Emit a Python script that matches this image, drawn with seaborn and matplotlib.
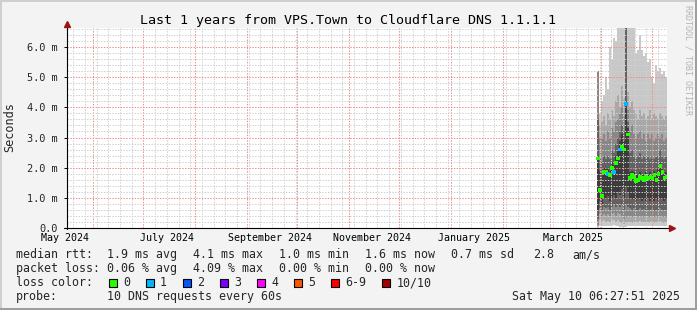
import pandas as pd
import matplotlib
matplotlib.use("Agg")
import matplotlib.pyplot as plt
import matplotlib.dates as mdates
import matplotlib.transforms as mtransforms
from matplotlib.ticker import FixedLocator
from matplotlib.patches import Rectangle
import seaborn as sns

# ---------------- data ----------------
col_start = "2025-03-29 12:00"
col_step = "1728min"

# sorted ping percentiles per consolidated column (ms)
p10 = [5.2, 3.8, 4.2, 4.4, 5.0, 4.6, 6.0, 5.6, 6.3, 6.2, 6.8, 6.8, 6.8, 6.8, 6.8, 6.8, 6.8, 6.8, 6.8,
       5.8, 5.9, 6.4, 5.9, 5.7, 5.8, 5.5, 5.6, 5.0, 4.8, 5.4, 5.2, 5.3, 5.1, 5.2, 5.0]
p9 = [5.2, 3.4, 3.5, 3.7, 3.4, 3.8, 3.6, 3.9, 3.7, 4.2, 4.4, 4.0, 4.7, 4.3, 6.8, 4.5, 4.0, 4.2, 3.9,
      3.8, 3.6, 3.9, 3.7, 3.8, 3.6, 3.7, 3.9, 3.6, 3.8, 3.7, 3.6, 3.8, 3.7, 3.6, 3.7]
p8 = [5.2, 3.0, 3.0, 3.1, 2.9, 3.2, 3.0, 3.3, 3.2, 3.5, 3.6, 3.8, 4.0, 3.7, 6.8, 3.9, 3.2, 3.4, 3.1,
      3.0, 3.1, 3.2, 3.0, 3.1, 2.9, 3.1, 3.0, 3.1, 2.9, 3.0, 3.1, 3.0, 3.1, 2.9, 3.0]
p7 = [3.6, 2.3, 2.2, 2.4, 2.3, 2.4, 2.3, 2.6, 2.5, 2.8, 3.0, 3.2, 3.4, 3.2, 6.8, 3.5, 2.5, 2.6, 2.4,
      2.3, 2.4, 2.5, 2.3, 2.4, 2.3, 2.4, 2.3, 2.4, 2.3, 2.35, 2.4, 2.6, 2.4, 2.3, 2.35]
p6 = [2.4, 1.9, 1.8, 2.0, 2.0, 1.95, 1.9, 2.2, 2.1, 2.4, 2.6, 2.9, 3.1, 2.9, 4.2, 3.3, 1.85, 1.9, 1.85,
      1.75, 1.8, 1.85, 1.8, 1.75, 1.85, 1.8, 1.85, 1.8, 1.9, 1.75, 1.95, 2.15, 1.95, 1.8, 1.85]
p5 = [0.6, 0.9, 0.8, 1.0, 0.95, 1.05, 0.9, 1.0, 1.1, 1.0, 1.2, 1.1, 1.3, 1.0, 1.4, 1.2, 1.0, 0.95, 1.0,
      0.9, 0.95, 1.0, 0.9, 0.95, 0.9, 0.95, 0.9, 0.95, 0.9, 0.95, 0.9, 1.0, 0.95, 0.9, 0.95]
p4 = [0.3, 0.65, 0.6, 0.7, 0.65, 0.7, 0.6, 0.7, 0.75, 0.7, 0.8, 0.7, 0.75, 0.6, 0.8, 0.7, 0.65, 0.6, 0.65,
      0.6, 0.6, 0.65, 0.6, 0.62, 0.58, 0.6, 0.6, 0.62, 0.58, 0.6, 0.6, 0.65, 0.6, 0.6, 0.6]
p3 = [0.1, 0.45, 0.4, 0.45, 0.4, 0.45, 0.4, 0.45, 0.5, 0.4, 0.5, 0.45, 0.4, 0.3, 0.35, 0.4, 0.4, 0.38, 0.4,
      0.36, 0.38, 0.4, 0.37, 0.38, 0.36, 0.37, 0.38, 0.4, 0.36, 0.37, 0.38, 0.4, 0.37, 0.36, 0.37]
p2 = [0.05, 0.25, 0.22, 0.25, 0.2, 0.22, 0.2, 0.25, 0.28, 0.2, 0.25, 0.2, 0.15, 0.12, 0.15, 0.2, 0.2, 0.18, 0.2,
      0.18, 0.2, 0.22, 0.2, 0.2, 0.18, 0.2, 0.2, 0.22, 0.18, 0.2, 0.2, 0.22, 0.2, 0.18, 0.2]
p1 = [0.0, 0.08, 0.06, 0.08, 0.05, 0.06, 0.05, 0.08, 0.1, 0.05, 0.06, 0.04, 0.03, 0.02, 0.03, 0.05, 0.06, 0.05, 0.06,
      0.05, 0.05, 0.06, 0.05, 0.06, 0.05, 0.05, 0.06, 0.06, 0.05, 0.05, 0.06, 0.06, 0.05, 0.05, 0.06]
median = [2.3, 1.25, 1.05, 1.85, 1.85, 1.8, 1.75, 2.0, 1.85, 2.15, 2.3, 2.6, 2.7, 2.6, 4.1, 3.1, 1.65, 1.75, 1.7,
          1.55, 1.6, 1.7, 1.65, 1.6, 1.7, 1.65, 1.7, 1.65, 1.75, 1.6, 1.8, 2.05, 1.85, 1.65, 1.7]
loss = [0, 0, 0, 0, 0, 1, 0, 0, 1, 0, 0, 1, 0, 0, 1, 0, 0, 0, 0,
        0, 0, 0, 0, 0, 0, 0, 0, 0, 0, 0, 0, 0, 0, 0, 0]

x_start = "2024-05-16 06:27"
x_end = "2025-05-10 06:27"
y_max = 6.63
y_ticks = [0, 1, 2, 3, 4, 5, 6]
y_tick_labels = ["0.0", "1.0 m", "2.0 m", "3.0 m", "4.0 m", "5.0 m", "6.0 m"]
y_minor = [0.2, 0.4, 0.6, 0.8, 1.2, 1.4, 1.6, 1.8, 2.2, 2.4, 2.6, 2.8, 3.2, 3.4, 3.6, 3.8,
           4.2, 4.4, 4.6, 4.8, 5.2, 5.4, 5.6, 5.8, 6.2, 6.4, 6.6]
x_label_dates = ["2024-05-15", "2024-07-15", "2024-09-15", "2024-11-15", "2025-01-15", "2025-03-15"]
x_labels = ["May 2024", "July 2024", "September 2024", "November 2024", "January 2025", "March 2025"]

loss_names = ["0", "1", "2", "3", "4", "5", "6-9", "10/10"]
loss_colors = ["#26ff00", "#00b8ff", "#0059ff", "#7e00ff", "#ff00ff", "#ff5500", "#ff0000", "#a10000"]
smoke_colors = ["#c8c8c8", "#a8a8a8", "#888888", "#626262", "#3c3c3c"]

title = "Last 1 years from VPS.Town to Cloudflare DNS 1.1.1.1"
stats_rtt = ["1.9 ms avg", "4.1 ms max", "1.0 ms min", "1.6 ms now", "0.7 ms sd", "2.8", "am/s"]
stats_loss = ["0.06 % avg", "4.09 % max", "0.00 % min", "0.00 % now"]
probe_text = "10 DNS requests every 60s"
stamp = "Sat May 10 06:27:51 2025"

# ---------------- figure ----------------
sns.set_theme(style="white")
plt.rcParams["font.family"] = ["DejaVu Sans Mono", "DejaVu Sans"]

W, H = 697, 310
fig = plt.figure(figsize=(W / 100, H / 100), dpi=100, facecolor="#f3f3f3")
ax = fig.add_axes([67 / W, (H - 228) / H, 600 / W, 200 / H])
ax.set_facecolor("white")
for s in ax.spines.values():
    s.set_visible(False)

edges = pd.date_range(col_start, periods=len(median) + 1, freq=col_step)
mids = edges[:-1] + (edges[1] - edges[0]) / 2

lows = [p1, p2, p3, p4, p5]
highs = [p10, p9, p8, p7, p6]
for lo, hi, c in zip(lows, highs, smoke_colors):
    ax.fill_between(edges, lo + [lo[-1]], hi + [hi[-1]], step="post", color=c,
                    linewidth=0, zorder=1)

df = pd.DataFrame({"time": mids, "median": median, "loss": [loss_names[i] for i in loss]})
sns.scatterplot(data=df, x="time", y="median", hue="loss",
                palette=dict(zip(loss_names, loss_colors)), marker="s", s=7,
                linewidth=0, legend=False, ax=ax, zorder=4)

ax.set_xlim(pd.Timestamp(x_start), pd.Timestamp(x_end))
ax.set_ylim(0, y_max)
ax.set_xlabel("")
ax.set_ylabel("")

ax.xaxis.set_major_locator(mdates.MonthLocator())
ax.xaxis.set_minor_locator(mdates.WeekdayLocator(byweekday=mdates.MO))
ax.yaxis.set_major_locator(FixedLocator(y_ticks))
ax.yaxis.set_minor_locator(FixedLocator(y_minor))
ax.set_yticks(y_ticks, y_tick_labels)
ax.tick_params(axis="x", which="both", labelbottom=False, length=0)
ax.tick_params(axis="y", which="major", length=2, width=0.7, color="black", direction="out",
               pad=4.5, labelsize=7.4, left=True)
ax.tick_params(axis="y", which="minor", length=0)
for lab in ax.get_yticklabels():
    lab.set_verticalalignment("center_baseline")

ax.set_axisbelow(False)
ax.grid(which="minor", color="#d0d0d0", lw=0.72, ls=(0, (1.4, 1.4)))
ax.grid(which="major", color="#f28c8c", lw=0.72, ls=(0, (1.4, 1.4)))

trans = mtransforms.blended_transform_factory(ax.transData, ax.transAxes)
for d, lab in zip(x_label_dates, x_labels):
    ax.text(pd.Timestamp(d), -0.065, lab, transform=trans, ha="center", va="baseline",
            fontsize=7.2, color="black", clip_on=False)

# axes with arrows
ax.plot([0, 0], [-0.005, 1.02], transform=ax.transAxes, color="black", lw=0.8,
        clip_on=False, zorder=6)
ax.plot([-0.005, 1.005], [0, 0], transform=ax.transAxes, color="black", lw=0.8,
        clip_on=False, zorder=6)
ax.plot([0], [1.02], transform=ax.transAxes, marker="^", ms=5, color="#9a1414",
        clip_on=False, zorder=7)
ax.plot([1.0083], [0], transform=ax.transAxes, marker=">", ms=5, color="#9a1414",
        clip_on=False, zorder=7)

# texts
def fx(px):
    return px / W

def fy(py):
    return 1 - py / H

fig.text(0.5, fy(24), title, ha="center", va="baseline", fontsize=9.6, color="black")
fig.text(fx(10), fy(127), "Seconds", rotation=90, ha="center", va="center", fontsize=8.6)
fig.text(fx(688), fy(60), "RRDTOOL / TOBI OETIKER", rotation=270, ha="center", va="center",
         fontsize=6, color="#b4b4b4")

fs = 8.4
fig.text(fx(16), fy(258), "median rtt:", ha="left", va="baseline", fontsize=fs)
for xp, t in zip([107, 193, 279, 365, 451, 533, 572], stats_rtt):
    fig.text(fx(xp), fy(258), t, ha="left", va="baseline", fontsize=fs)
fig.text(fx(16), fy(272), "packet loss:", ha="left", va="baseline", fontsize=fs)
for xp, t in zip([107, 193, 279, 365], stats_loss):
    fig.text(fx(xp), fy(272), t, ha="left", va="baseline", fontsize=fs)
fig.text(fx(16), fy(286), "loss color:", ha="left", va="baseline", fontsize=fs)
sq_x = [108.5, 145.5, 182.5, 219.5, 256.5, 293.5, 330.5, 381.5]
lab_x = [123, 160, 197, 234, 271, 308, 345, 397]
for sx, lx, name, col in zip(sq_x, lab_x, loss_names, loss_colors):
    fig.add_artist(Rectangle((fx(sx), fy(286.5)), 8 / W, 8 / H, transform=fig.transFigure,
                             facecolor=col, edgecolor="black", linewidth=0.8))
    fig.text(fx(lx), fy(286), name, ha="left", va="baseline", fontsize=fs)
fig.text(fx(16), fy(300), "probe:", ha="left", va="baseline", fontsize=fs)
fig.text(fx(107), fy(300), probe_text, ha="left", va="baseline", fontsize=fs)
fig.text(fx(680), fy(300), stamp, ha="right", va="baseline", fontsize=fs)

# 3D frame
fig.add_artist(Rectangle((0, 1 - 2 / H), 1, 2 / H, transform=fig.transFigure, color="#cfcfcf", lw=0))
fig.add_artist(Rectangle((0, 0), 2 / W, 1, transform=fig.transFigure, color="#cfcfcf", lw=0))
fig.add_artist(Rectangle((0, 0), 1, 2 / H, transform=fig.transFigure, color="#9e9e9e", lw=0))
fig.add_artist(Rectangle((1 - 2 / W, 0), 2 / W, 1, transform=fig.transFigure, color="#9e9e9e", lw=0))

fig.savefig("out.png", dpi=100, facecolor=fig.get_facecolor())
